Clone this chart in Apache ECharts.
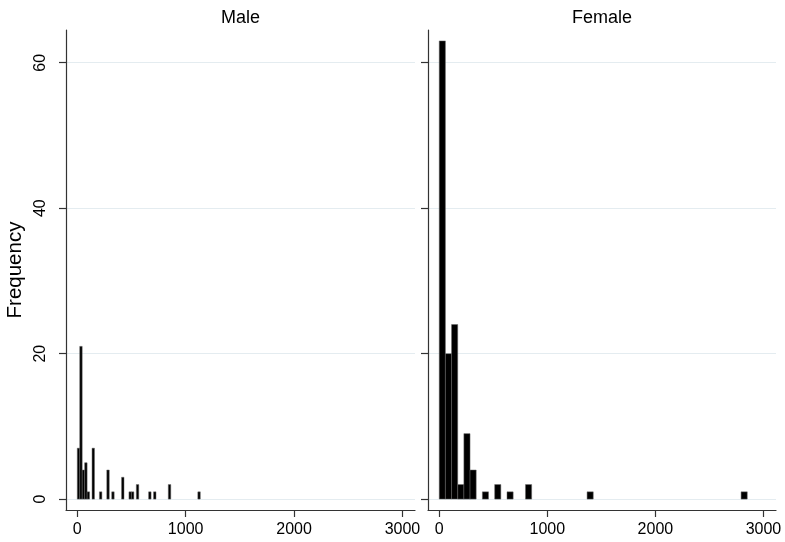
<!DOCTYPE html>
<html>
<head>
<meta charset="utf-8">
<script src="https://cdn.jsdelivr.net/npm/echarts@6/dist/echarts.min.js"></script>
<style>
html,body{margin:0;padding:0;background:#fff;}
#c{width:785px;height:542px;}
</style>
</head>
<body>
<div id="c"></div>
<script>
// ---- data ----
var panelTitles = ['Male', 'Female'];
var xTicks = [0, 1000, 2000, 3000];
var yTicks = [0, 20, 40, 60];

var maleBinWidth = 22.7;
var maleBinLow = [0, 22.7, 45.4, 68.1, 90.8, 136.2, 204.3, 272.4, 317.8, 408.6, 476.7, 499.4, 544.8, 658.3, 703.7, 839.9, 1112.3];
var maleCounts = [7, 21, 4, 5, 1, 7, 1, 4, 1, 3, 1, 1, 2, 1, 1, 2, 1];

var femaleBinWidth = 57;
var femaleBinLow = [0, 57, 114, 171, 228, 285, 399, 513, 627, 798, 1368, 2793];
var femaleCounts = [63, 20, 24, 2, 9, 4, 1, 2, 1, 2, 1, 1];

function bins(low, w, counts) {
  return low.map(function (l, i) { return [l, l + w, counts[i]]; });
}

var FONT = '"Liberation Sans", Arial, sans-serif';

function renderBin(params, api) {
  var p0 = api.coord([api.value(0), 0]);
  var p1 = api.coord([api.value(1), api.value(2)]);
  return {
    type: 'rect',
    shape: { x: p0[0], y: p1[1], width: p1[0] - p0[0], height: p0[1] - p1[1] },
    style: { fill: '#000', stroke: '#666', lineWidth: 0.5 }
  };
}

var grids = [
  { left: 66, top: 30, width: 349, height: 480 },
  { left: 428, top: 30, width: 348, height: 480 }
];

function plain(v) { return String(v); }

function xAxisFor(i) {
  return {
    type: 'value', gridIndex: i, min: -104, max: 3116,
    axisLine: { show: true, onZero: false, lineStyle: { color: '#333', width: 1.2 } },
    axisTick: { show: true, customValues: xTicks, length: 7, lineStyle: { color: '#333', width: 1.2 } },
    axisLabel: { show: true, customValues: xTicks, formatter: plain, fontSize: 16, color: '#000', fontFamily: FONT, margin: 12 },
    splitLine: { show: false }
  };
}
function yAxisFor(i) {
  return {
    type: 'value', gridIndex: i, min: -1.5, max: 64.5,
    name: i === 0 ? 'Frequency' : '',
    nameLocation: 'middle', nameGap: 40, nameRotate: 90,
    nameTextStyle: { fontSize: 20.5, color: '#000', fontFamily: FONT },
    axisLine: { show: true, onZero: false, lineStyle: { color: '#333', width: 1.2 } },
    axisTick: { show: true, customValues: yTicks, length: 7, lineStyle: { color: '#333', width: 1.2 } },
    axisLabel: { show: i === 0, customValues: yTicks, formatter: plain, rotate: 90, fontSize: 16, color: '#000', fontFamily: FONT, margin: 17 },
    splitLine: { show: false }
  };
}

function gridLines() {
  return {
    silent: true, symbol: 'none', label: { show: false }, z: 0,
    lineStyle: { color: '#e4ecf0', type: 'solid', width: 1 },
    emphasis: { disabled: true },
    data: yTicks.map(function (v) { return { yAxis: v }; })
  };
}

var option = {
  animation: false,
  backgroundColor: '#fff',
  title: [
    { text: panelTitles[0], left: 235.5, top: 4, textAlign: 'center', textStyle: { fontSize: 18, fontWeight: 'normal', color: '#000', fontFamily: FONT } },
    { text: panelTitles[1], left: 597, top: 4, textAlign: 'center', textStyle: { fontSize: 18, fontWeight: 'normal', color: '#000', fontFamily: FONT } }
  ],
  grid: grids,
  xAxis: [xAxisFor(0), xAxisFor(1)],
  yAxis: [yAxisFor(0), yAxisFor(1)],
  series: [
    { type: 'line', xAxisIndex: 0, yAxisIndex: 0, data: [], z: 0, markLine: gridLines() },
    { type: 'line', xAxisIndex: 1, yAxisIndex: 1, data: [], z: 0, markLine: gridLines() },
    { type: 'custom', xAxisIndex: 0, yAxisIndex: 0, z: 6, renderItem: renderBin, data: bins(maleBinLow, maleBinWidth, maleCounts) },
    { type: 'custom', xAxisIndex: 1, yAxisIndex: 1, z: 6, renderItem: renderBin, data: bins(femaleBinLow, femaleBinWidth, femaleCounts) }
  ]
};

var chart = echarts.init(document.getElementById('c'), null, { renderer: 'canvas' });
chart.setOption(option);
</script>
</body>
</html>
